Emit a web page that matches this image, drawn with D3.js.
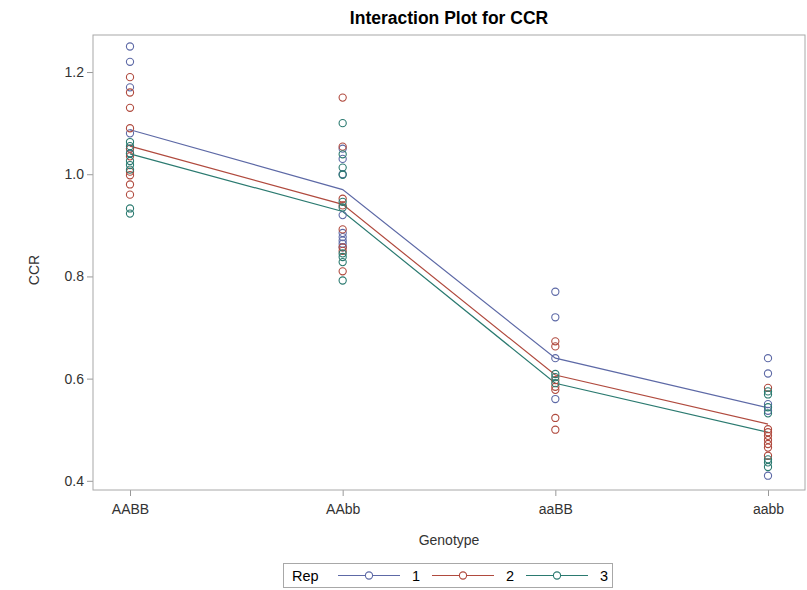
<!DOCTYPE html>
<meta charset="utf-8">
<script src="https://d3js.org/d3.v7.min.js"></script>
<style>
  body { margin: 0; background: #fff; font-family: 'Liberation Sans', Arial, sans-serif; }
</style>
<div id="my_dataviz"></div>
<script>
// categories and series
var genotypes = ["AABB", "AAbb", "aaBB", "aabb"];
var reps = ["1", "2", "3"];
var yTicks = [0.4, 0.6, 0.8, 1.0, 1.2];

// cell means per rep (lines)
var mean1 = [1.087, 0.970, 0.640, 0.543];
var mean2 = [1.055, 0.941, 0.607, 0.511];
var mean3 = [1.040, 0.927, 0.591, 0.495];

// observations per rep, one list per genotype
var obs1 = [[1.25, 1.22, 1.17, 1.08, 1.05, 1.04],
            [1.05, 1.03, 1.00, 0.92, 0.885, 0.877, 0.87, 0.864, 0.857],
            [0.77, 0.72, 0.64, 0.56],
            [0.64, 0.61, 0.55, 0.537, 0.41]];
var obs2 = [[1.19, 1.16, 1.13, 1.09, 1.05, 1.035, 1.005, 0.998, 0.98, 0.96],
            [1.15, 1.054, 0.952, 0.939, 0.892, 0.857, 0.85, 0.81],
            [0.673, 0.663, 0.597, 0.584, 0.578, 0.523, 0.50],
            [0.582, 0.501, 0.495, 0.488, 0.48, 0.472, 0.465, 0.449]];
var obs3 = [[1.063, 1.055, 1.041, 1.026, 1.018, 1.009, 0.933, 0.923],
            [1.10, 1.039, 1.013, 0.999, 0.946, 0.935, 0.845, 0.838, 0.828, 0.792],
            [0.609, 0.603, 0.591],
            [0.575, 0.569, 0.544, 0.532, 0.442, 0.436, 0.427]];

var colors = ["#5d69a6", "#b04a3e", "#2b7a70"];

var W = 807, H = 590;
var margin = {top: 35, left: 93, right: 2, bottom: 100};
var width = W - margin.left - margin.right, height = H - margin.top - margin.bottom;

var svg = d3.select("#my_dataviz").append("svg")
    .attr("width", W).attr("height", H)
    .style("font-family", "'Liberation Sans', Arial, sans-serif");

var g = svg.append("g").attr("transform", "translate(" + margin.left + "," + margin.top + ")");

var x = d3.scalePoint().domain(genotypes).range([37, width - 37]);
var y = d3.scaleLinear().domain([0.382, 1.2725]).range([height, 0]);

// title
svg.append("text")
  .attr("x", 449).attr("y", 24)
  .attr("text-anchor", "middle")
  .style("font-size", "17.5px").style("font-weight", "bold").style("fill", "#000")
  .text("Interaction Plot for CCR");

// axes
var xAxis = g.append("g").attr("transform", "translate(0," + height + ")")
  .call(d3.axisBottom(x).tickSize(6).tickSizeOuter(0));
var yAxis = g.append("g")
  .call(d3.axisLeft(y).tickValues(yTicks).tickFormat(d3.format(".1f")).tickSize(6).tickSizeOuter(0));
[xAxis, yAxis].forEach(function(a) {
  a.select(".domain").remove();
  a.selectAll("line").attr("stroke", "#999");
  a.selectAll("text").style("font-size", "14px").style("fill", "#333")
    .style("font-family", "'Liberation Sans', Arial, sans-serif");
});
xAxis.selectAll("text").attr("dy", "1.05em");

// frame
g.append("rect").attr("width", width).attr("height", height)
  .attr("fill", "none").attr("stroke", "#a8a8a8");

// axis labels
svg.append("text").attr("x", 449).attr("y", 545).attr("text-anchor", "middle")
  .style("font-size", "14px").style("fill", "#333").text("Genotype");
svg.append("text").attr("transform", "translate(39,270) rotate(-90)").attr("text-anchor", "middle")
  .style("font-size", "14px").style("fill", "#333").text("CCR");

// lines
var means = [mean1, mean2, mean3];
var line = d3.line().x(function(d, i) { return x(genotypes[i]); }).y(function(d) { return y(d); });
means.forEach(function(m, k) {
  g.append("path").datum(m).attr("d", line)
    .attr("fill", "none").attr("stroke", colors[k]).attr("stroke-width", 1.2);
});

// points
var obs = [obs1, obs2, obs3];
obs.forEach(function(o, k) {
  o.forEach(function(vals, gi) {
    g.selectAll(null).data(vals).enter().append("circle")
      .attr("cx", x(genotypes[gi])).attr("cy", function(d) { return y(d); })
      .attr("r", 3.6).attr("fill", "none")
      .attr("stroke", colors[k]).attr("stroke-width", 1.1);
  });
});

// legend
var leg = svg.append("g");
leg.append("rect").attr("x", 283.5).attr("y", 563.5).attr("width", 329).attr("height", 24)
  .attr("fill", "none").attr("stroke", "#a8a8a8");
leg.append("text").attr("x", 292).attr("y", 581).style("font-size", "14.5px").style("fill", "#000").text("Rep");
reps.forEach(function(r, k) {
  var x0 = 338 + k * 94;
  leg.append("line").attr("x1", x0).attr("x2", x0 + 62).attr("y1", 575.5).attr("y2", 575.5)
    .attr("stroke", colors[k]).attr("stroke-width", 1.2);
  leg.append("circle").attr("cx", x0 + 31).attr("cy", 575.5).attr("r", 3.6)
    .attr("fill", "#fff").attr("stroke", colors[k]).attr("stroke-width", 1.1);
  leg.append("text").attr("x", x0 + 74).attr("y", 581).style("font-size", "14.5px").style("fill", "#000").text(r);
});
</script>
